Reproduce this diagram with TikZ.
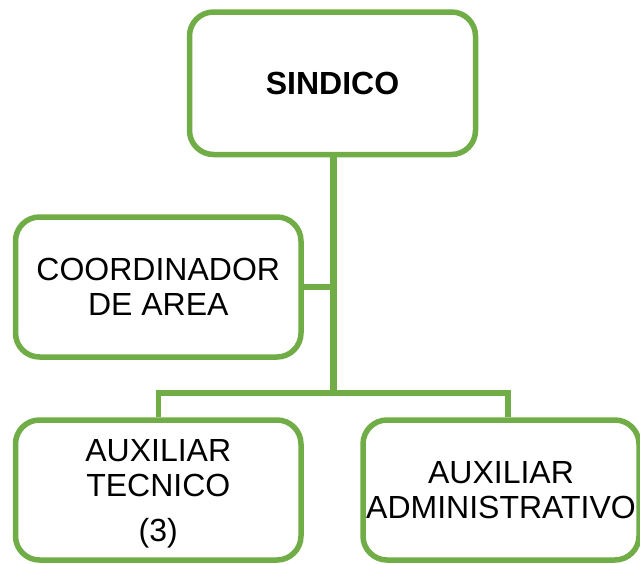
\documentclass[tikz,border=0pt]{standalone}
\usepackage{fontspec}
\setmainfont{Liberation Sans}
\definecolor{boxgreen}{HTML}{70AD47}
\begin{document}
\begin{tikzpicture}[x=1pt,y=-1pt,
  orgbox/.style={draw=boxgreen, line width=5.5pt, rounded corners=24pt, fill=white,
    align=center, font=\fontsize{32}{34.5}\selectfont, inner sep=0pt,
    minimum height=140pt},
  link/.style={draw=boxgreen, line width=5.5pt, line join=miter},
  trunk/.style={draw=boxgreen, line width=7pt}]
\useasboundingbox (0,0) rectangle (640,563);
\node[orgbox, minimum width=286pt, minimum height=142.5pt] (sind) at (332.5,83.25) {\bfseries SINDICO};
\node[orgbox, minimum width=285.5pt] (coord) at (158.25,287) {COORDINADOR\\DE AREA};
\node[orgbox, minimum width=285.5pt] (tec) at (158.25,490) {\rule{0pt}{30pt}AUXILIAR\\TECNICO\\[11pt](3)};
\node[orgbox, minimum width=276pt] (adm) at (501,490) {AUXILIAR\\ADMINISTRATIVO};
\coordinate (j) at (333,393);
\coordinate (r) at (508,393);
\draw[trunk] (sind.south -| j) -- ([yshift=-2.75pt]j);
\draw[link] (coord.east) -- (coord.east -| j);
\draw[link] (tec.north) -- (tec.north |- j) -- (r) -- (r |- adm.north);
\end{tikzpicture}
\end{document}
